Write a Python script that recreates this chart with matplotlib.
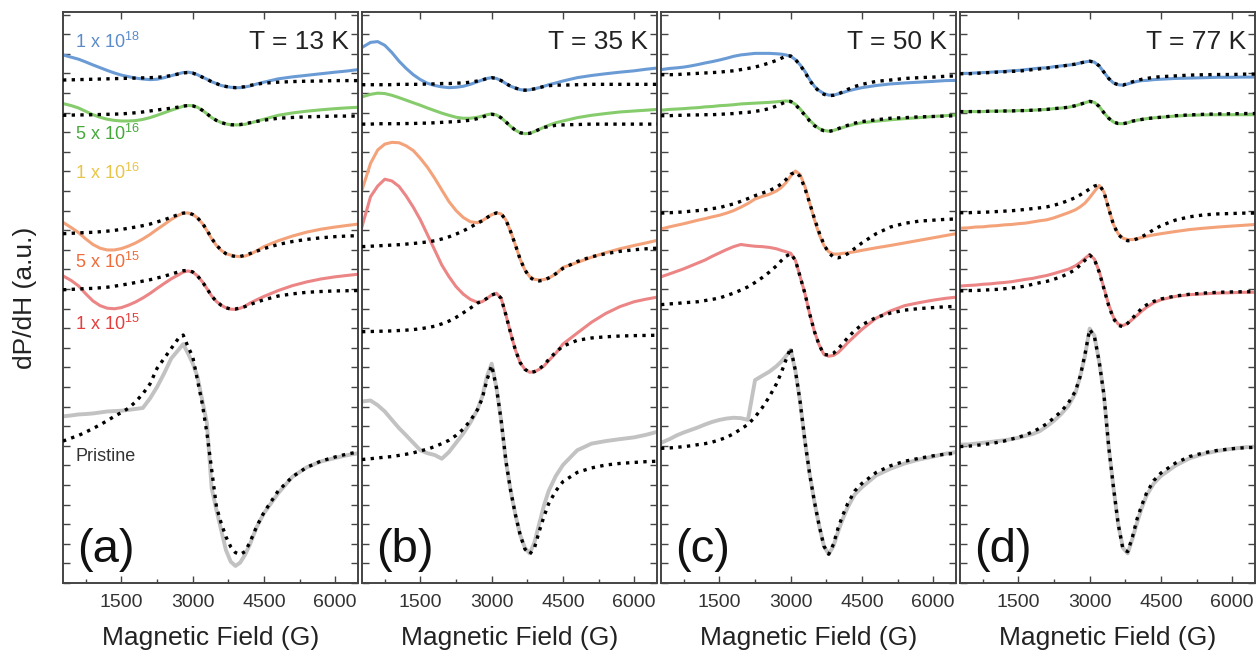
import matplotlib
matplotlib.use('Agg')

import matplotlib.pyplot as plt
from matplotlib.ticker import FixedLocator, MultipleLocator

plt.rcParams['font.family'] = ['Liberation Sans', 'DejaVu Sans']
plt.rcParams['mathtext.default'] = 'regular'

# magnetic field grid (G) shared by every trace
FIELD = [270, 450, 600, 750, 900, 1050, 1200, 1350, 1500, 1650, 1800, 1950, 2100, 2250,
         2400, 2550, 2700, 2800, 2900, 3000, 3100, 3200, 3300, 3400, 3500, 3600, 3700,
         3800, 3900, 4000, 4100, 4200, 4350, 4500, 4800, 5100, 5400, 5700, 6000, 6250, 6480]

TEMPS = ['T = 13 K', 'T = 35 K', 'T = 50 K', 'T = 77 K']
PANEL_TAGS = ['(a)', '(b)', '(c)', '(d)']
DOSES = ['1 x 10$^{18}$', '5 x 10$^{16}$', '1 x 10$^{16}$', '5 x 10$^{15}$', '1 x 10$^{15}$', 'Pristine']

# ---- (a) 13 K ----
A_BLUE = [26.94, 26.82, 26.72, 26.58, 26.43, 26.29, 26.15, 26.02, 25.91, 25.83, 25.76, 25.71, 25.68, 25.70,
          25.78, 25.88, 25.98, 26.04, 26.06, 26.02, 25.93, 25.81, 25.70, 25.57, 25.48, 25.38, 25.33,
          25.29, 25.27, 25.27, 25.31, 25.35, 25.46, 25.55, 25.72, 25.82, 25.90, 25.98, 26.06, 26.12, 26.19]
A_BLUE_FIT = [25.66, 25.67, 25.68, 25.69, 25.70, 25.71, 25.72, 25.73, 25.74, 25.75, 25.76, 25.77, 25.78, 25.80,
              25.83, 25.89, 25.97, 26.02, 26.04, 26.01, 25.93, 25.81, 25.70, 25.57, 25.48, 25.38, 25.33,
              25.29, 25.27, 25.29, 25.32, 25.38, 25.45, 25.50, 25.55, 25.58, 25.60, 25.61, 25.63, 25.63, 25.63]
A_GREEN = [24.46, 24.35, 24.23, 24.06, 23.89, 23.76, 23.66, 23.60, 23.57, 23.57, 23.59, 23.65, 23.74, 23.86,
           23.99, 24.12, 24.24, 24.32, 24.36, 24.35, 24.27, 24.12, 23.94, 23.74, 23.60, 23.49, 23.42,
           23.38, 23.37, 23.37, 23.40, 23.46, 23.56, 23.66, 23.86, 23.98, 24.07, 24.14, 24.20, 24.24, 24.27]
A_GREEN_FIT = [23.86, 23.87, 23.88, 23.88, 23.89, 23.90, 23.91, 23.92, 23.93, 23.96, 23.99, 24.03, 24.08, 24.13,
               24.18, 24.22, 24.28, 24.33, 24.36, 24.34, 24.27, 24.12, 23.94, 23.74, 23.60, 23.49, 23.42,
               23.38, 23.37, 23.39, 23.43, 23.48, 23.55, 23.61, 23.71, 23.75, 23.78, 23.80, 23.82, 23.82, 23.82]
A_ORANGE = [18.40, 18.12, 17.87, 17.55, 17.27, 17.08, 16.99, 16.99, 17.06, 17.19, 17.35, 17.55, 17.78, 18.04,
            18.29, 18.55, 18.76, 18.87, 18.88, 18.80, 18.63, 18.35, 17.98, 17.56, 17.22, 16.97, 16.80,
            16.73, 16.67, 16.65, 16.68, 16.76, 16.95, 17.16, 17.46, 17.70, 17.90, 18.05, 18.16, 18.24, 18.31]
A_ORANGE_FIT = [17.82, 17.84, 17.86, 17.88, 17.89, 17.92, 17.95, 17.99, 18.04, 18.10, 18.16, 18.23, 18.31, 18.42,
                18.53, 18.66, 18.80, 18.87, 18.89, 18.80, 18.63, 18.37, 18.00, 17.58, 17.24, 16.98, 16.80,
                16.70, 16.66, 16.66, 16.72, 16.80, 16.93, 17.06, 17.27, 17.42, 17.53, 17.61, 17.67, 17.70, 17.72]
A_RED = [15.67, 15.42, 15.15, 14.75, 14.39, 14.15, 14.02, 13.99, 14.05, 14.18, 14.34, 14.54, 14.77, 15.03,
         15.28, 15.52, 15.72, 15.86, 15.92, 15.86, 15.67, 15.38, 15.02, 14.64, 14.36, 14.17, 14.04,
         13.97, 13.96, 14.02, 14.12, 14.27, 14.45, 14.62, 14.92, 15.17, 15.36, 15.51, 15.62, 15.69, 15.75]
A_RED_FIT = [14.96, 14.98, 15.00, 15.02, 15.03, 15.06, 15.09, 15.14, 15.20, 15.26, 15.33, 15.40, 15.47, 15.56,
             15.65, 15.76, 15.87, 15.93, 15.95, 15.87, 15.67, 15.38, 15.02, 14.64, 14.36, 14.17, 14.04,
             13.98, 13.98, 14.03, 14.10, 14.20, 14.33, 14.45, 14.64, 14.75, 14.83, 14.87, 14.90, 14.91, 14.92]
A_GREY = [8.50, 8.55, 8.60, 8.62, 8.65, 8.70, 8.75, 8.77, 8.79, 8.83, 8.88, 8.93, 9.41, 10.00,
          10.70, 11.46, 11.89, 12.19, 11.72, 11.21, 10.53, 9.34, 8.15, 4.83, 3.72, 2.70, 1.68,
          1.09, 0.87, 1.04, 1.43, 1.94, 2.87, 3.56, 4.58, 5.42, 5.90, 6.20, 6.38, 6.52, 6.62]
A_GREY_FIT = [7.24, 7.40, 7.53, 7.70, 7.88, 8.07, 8.28, 8.50, 8.70, 8.92, 9.25, 9.65, 10.15, 10.95,
              11.46, 11.97, 12.48, 12.65, 12.06, 11.55, 10.36, 9.17, 7.64, 5.77, 3.89, 3.05, 2.36,
              1.85, 1.55, 1.46, 1.60, 2.05, 2.90, 3.60, 4.70, 5.42, 5.90, 6.22, 6.43, 6.58, 6.68]

# ---- (b) 35 K ----
B_BLUE = [27.32, 27.58, 27.62, 27.43, 27.06, 26.62, 26.25, 25.93, 25.68, 25.49, 25.38, 25.31, 25.27, 25.29,
          25.34, 25.44, 25.57, 25.66, 25.74, 25.78, 25.74, 25.63, 25.48, 25.34, 25.25, 25.17, 25.14,
          25.16, 25.21, 25.27, 25.34, 25.42, 25.51, 25.61, 25.78, 25.89, 25.98, 26.06, 26.13, 26.21, 26.27]
B_BLUE_FIT = [25.42, 25.42, 25.42, 25.42, 25.42, 25.44, 25.44, 25.44, 25.44, 25.46, 25.46, 25.48, 25.48, 25.50,
              25.51, 25.55, 25.61, 25.66, 25.74, 25.78, 25.74, 25.63, 25.48, 25.34, 25.25, 25.17, 25.14,
              25.16, 25.21, 25.27, 25.33, 25.37, 25.40, 25.40, 25.42, 25.44, 25.44, 25.44, 25.44, 25.44, 25.44]
B_GREEN = [24.80, 24.93, 24.99, 24.97, 24.88, 24.76, 24.63, 24.50, 24.37, 24.23, 24.10, 23.97, 23.86, 23.76,
           23.71, 23.71, 23.76, 23.82, 23.89, 23.93, 23.88, 23.73, 23.52, 23.29, 23.10, 22.97, 22.92,
           22.94, 23.03, 23.14, 23.25, 23.35, 23.48, 23.57, 23.74, 23.86, 23.95, 24.03, 24.08, 24.12, 24.16]
B_GREEN_FIT = [23.41, 23.41, 23.43, 23.43, 23.43, 23.43, 23.44, 23.44, 23.46, 23.46, 23.48, 23.50, 23.52, 23.54,
               23.57, 23.61, 23.69, 23.76, 23.86, 23.91, 23.88, 23.73, 23.52, 23.29, 23.10, 22.97, 22.92,
               22.94, 23.03, 23.14, 23.24, 23.29, 23.35, 23.37, 23.39, 23.41, 23.41, 23.41, 23.41, 23.41, 23.41]
B_ORANGE = [20.05, 21.41, 22.09, 22.39, 22.48, 22.46, 22.30, 22.06, 21.66, 21.20, 20.65, 20.05, 19.46, 19.00,
            18.65, 18.43, 18.38, 18.48, 18.64, 18.79, 18.88, 18.83, 18.52, 17.92, 17.24, 16.51, 15.97,
            15.63, 15.49, 15.46, 15.48, 15.56, 15.76, 16.10, 16.35, 16.62, 16.85, 17.05, 17.22, 17.35, 17.48]
B_ORANGE_FIT = [17.16, 17.18, 17.20, 17.22, 17.24, 17.26, 17.29, 17.32, 17.36, 17.40, 17.46, 17.55, 17.66, 17.80,
                17.96, 18.15, 18.35, 18.48, 18.64, 18.79, 18.88, 18.83, 18.52, 17.92, 17.24, 16.51, 15.97,
                15.60, 15.44, 15.41, 15.45, 15.56, 15.78, 16.05, 16.40, 16.64, 16.80, 16.92, 17.00, 17.05, 17.08]
B_RED = [18.18, 19.71, 20.25, 20.60, 20.51, 20.23, 19.74, 19.17, 18.52, 17.76, 16.99, 16.22, 15.63, 15.12,
         14.74, 14.47, 14.32, 14.35, 14.52, 14.69, 14.78, 14.52, 13.67, 12.74, 11.88, 11.24, 10.90,
         10.75, 10.78, 10.90, 11.07, 11.34, 11.72, 12.19, 12.75, 13.30, 13.75, 14.10, 14.35, 14.48, 14.58]
B_RED_FIT = [12.82, 12.83, 12.84, 12.85, 12.86, 12.88, 12.90, 12.93, 12.97, 13.03, 13.10, 13.22, 13.36, 13.55,
             13.78, 14.02, 14.28, 14.38, 14.52, 14.69, 14.78, 14.52, 13.67, 12.74, 11.88, 11.24, 10.90,
             10.75, 10.78, 10.92, 11.12, 11.40, 11.78, 12.08, 12.38, 12.50, 12.56, 12.60, 12.62, 12.63, 12.64]
B_GREY = [9.26, 9.31, 9.07, 8.75, 8.32, 7.90, 7.53, 7.15, 6.77, 6.62, 6.53, 6.34, 6.68, 7.15,
          7.62, 8.18, 8.84, 9.50, 10.54, 11.19, 9.97, 8.28, 6.21, 4.70, 3.48, 2.45, 1.79,
          1.51, 2.07, 3.01, 3.95, 4.70, 5.46, 6.02, 6.77, 7.11, 7.24, 7.34, 7.43, 7.56, 7.71]
B_GREY_FIT = [6.30, 6.34, 6.38, 6.42, 6.45, 6.51, 6.57, 6.64, 6.74, 6.83, 6.96, 7.11, 7.28, 7.53,
              7.85, 8.28, 8.84, 9.41, 10.35, 11.10, 9.97, 8.28, 6.21, 4.70, 3.48, 2.45, 1.73,
              1.47, 1.79, 2.63, 3.39, 4.05, 4.70, 5.17, 5.64, 5.87, 6.02, 6.10, 6.15, 6.19, 6.21]

# ---- (c) 50 K ----
C_BLUE = [26.19, 26.25, 26.28, 26.32, 26.38, 26.45, 26.53, 26.60, 26.68, 26.77, 26.87, 26.94, 26.98, 27.02,
          27.02, 27.02, 27.00, 26.98, 26.94, 26.87, 26.70, 26.43, 26.10, 25.68, 25.34, 25.12, 24.97,
          24.89, 24.89, 24.95, 25.02, 25.10, 25.19, 25.27, 25.38, 25.46, 25.51, 25.55, 25.59, 25.63, 25.64]
C_BLUE_FIT = [25.93, 25.93, 25.94, 25.96, 25.98, 26.00, 26.02, 26.04, 26.06, 26.10, 26.13, 26.19, 26.25, 26.32,
              26.42, 26.53, 26.66, 26.77, 26.87, 26.89, 26.70, 26.42, 26.06, 25.64, 25.31, 25.08, 24.93,
              24.86, 24.88, 24.95, 25.06, 25.18, 25.33, 25.44, 25.59, 25.66, 25.74, 25.78, 25.81, 25.85, 25.87]
C_GREEN = [24.12, 24.16, 24.18, 24.20, 24.23, 24.25, 24.29, 24.31, 24.35, 24.37, 24.40, 24.44, 24.46, 24.48,
           24.50, 24.52, 24.55, 24.57, 24.59, 24.57, 24.42, 24.18, 23.89, 23.61, 23.37, 23.18, 23.09,
           23.05, 23.09, 23.16, 23.24, 23.31, 23.41, 23.48, 23.56, 23.63, 23.69, 23.74, 23.80, 23.84, 23.88]
C_GREEN_FIT = [23.84, 23.84, 23.86, 23.86, 23.88, 23.88, 23.89, 23.89, 23.91, 23.93, 23.95, 23.99, 24.01, 24.06,
               24.12, 24.20, 24.33, 24.44, 24.55, 24.57, 24.40, 24.14, 23.86, 23.57, 23.33, 23.16, 23.07,
               23.03, 23.09, 23.18, 23.27, 23.35, 23.46, 23.54, 23.63, 23.71, 23.74, 23.78, 23.80, 23.82, 23.84]
C_ORANGE = [18.06, 18.17, 18.25, 18.33, 18.42, 18.51, 18.59, 18.68, 18.76, 18.87, 19.00, 19.17, 19.36, 19.59,
            19.72, 19.83, 20.00, 20.17, 20.42, 20.76, 21.02, 20.83, 20.23, 19.38, 18.53, 17.78, 17.22,
            16.90, 16.78, 16.78, 16.82, 16.84, 16.90, 16.97, 17.10, 17.22, 17.35, 17.48, 17.61, 17.72, 17.82]
C_ORANGE_FIT = [18.87, 18.89, 18.91, 18.93, 18.97, 19.00, 19.04, 19.10, 19.15, 19.25, 19.34, 19.47, 19.61, 19.76,
                19.89, 20.02, 20.19, 20.36, 20.58, 20.85, 20.96, 20.74, 20.13, 19.38, 18.59, 17.88, 17.27,
                16.84, 16.63, 16.59, 16.67, 16.80, 17.07, 17.35, 17.82, 18.16, 18.35, 18.46, 18.51, 18.55, 18.57]
C_RED = [15.62, 15.77, 15.90, 16.03, 16.18, 16.33, 16.48, 16.67, 16.84, 17.01, 17.16, 17.27, 17.22, 17.18,
         17.16, 17.12, 17.05, 16.97, 16.90, 16.82, 16.46, 15.62, 14.77, 13.73, 12.83, 12.14, 11.66,
         11.57, 11.61, 11.76, 12.00, 12.26, 12.60, 12.94, 13.51, 13.88, 14.15, 14.30, 14.43, 14.52, 14.58]
C_RED_FIT = [14.20, 14.24, 14.26, 14.30, 14.32, 14.35, 14.41, 14.47, 14.54, 14.66, 14.79, 14.94, 15.11, 15.33,
             15.58, 15.86, 16.18, 16.44, 16.67, 16.80, 16.46, 15.62, 14.77, 13.73, 12.83, 12.14, 11.66,
             11.63, 11.72, 11.95, 12.23, 12.51, 12.89, 13.17, 13.55, 13.77, 13.92, 14.00, 14.05, 14.09, 14.11]
C_GREY = [7.15, 7.34, 7.53, 7.68, 7.81, 7.94, 8.09, 8.22, 8.32, 8.39, 8.43, 8.41, 8.32, 10.35,
          10.57, 10.78, 11.06, 11.29, 11.57, 11.89, 10.82, 9.22, 7.24, 5.55, 4.14, 2.92, 1.88,
          1.47, 1.88, 2.63, 3.29, 3.86, 4.52, 4.89, 5.49, 5.83, 6.10, 6.30, 6.45, 6.59, 6.68]
C_GREY_FIT = [6.87, 6.89, 6.92, 6.96, 7.00, 7.06, 7.11, 7.19, 7.30, 7.43, 7.62, 7.85, 8.09, 8.47,
              8.94, 9.50, 10.16, 10.72, 11.38, 12.00, 10.82, 9.22, 7.24, 5.55, 4.14, 2.92, 1.88,
              1.47, 1.98, 2.82, 3.48, 4.05, 4.70, 5.08, 5.64, 5.98, 6.21, 6.36, 6.49, 6.57, 6.62]

# ---- (d) 77 K ----
D_BLUE = [26.00, 26.00, 26.02, 26.04, 26.06, 26.08, 26.10, 26.13, 26.15, 26.19, 26.23, 26.27, 26.28, 26.34,
          26.38, 26.42, 26.47, 26.53, 26.58, 26.62, 26.57, 26.38, 26.06, 25.74, 25.51, 25.42, 25.40,
          25.46, 25.53, 25.59, 25.63, 25.64, 25.68, 25.70, 25.74, 25.76, 25.78, 25.80, 25.80, 25.81, 25.81]
D_BLUE_FIT = [25.98, 25.98, 26.00, 26.02, 26.04, 26.06, 26.08, 26.10, 26.11, 26.15, 26.19, 26.23, 26.27, 26.32,
              26.36, 26.42, 26.47, 26.53, 26.58, 26.62, 26.57, 26.38, 26.06, 25.74, 25.51, 25.42, 25.40,
              25.48, 25.57, 25.64, 25.70, 25.74, 25.80, 25.83, 25.87, 25.91, 25.93, 25.94, 25.94, 25.96, 25.96]
D_GREEN = [24.05, 24.05, 24.05, 24.05, 24.07, 24.07, 24.08, 24.08, 24.10, 24.10, 24.12, 24.14, 24.16, 24.20,
           24.23, 24.27, 24.35, 24.42, 24.50, 24.57, 24.52, 24.31, 23.99, 23.71, 23.52, 23.44, 23.43,
           23.48, 23.56, 23.61, 23.65, 23.69, 23.73, 23.76, 23.82, 23.86, 23.88, 23.89, 23.89, 23.89, 23.89]
D_GREEN_FIT = [24.05, 24.05, 24.05, 24.05, 24.07, 24.07, 24.08, 24.08, 24.10, 24.10, 24.12, 24.14, 24.16, 24.20,
               24.23, 24.27, 24.35, 24.42, 24.50, 24.57, 24.52, 24.31, 23.99, 23.71, 23.52, 23.44, 23.43,
               23.48, 23.56, 23.61, 23.65, 23.69, 23.73, 23.76, 23.84, 23.88, 23.91, 23.93, 23.94, 23.95, 23.95]
D_ORANGE = [18.10, 18.12, 18.16, 18.17, 18.21, 18.23, 18.27, 18.29, 18.33, 18.36, 18.42, 18.48, 18.53, 18.63,
            18.76, 18.89, 19.04, 19.19, 19.38, 19.66, 19.98, 20.28, 19.95, 19.10, 18.29, 17.82, 17.59,
            17.52, 17.52, 17.57, 17.63, 17.69, 17.76, 17.82, 17.93, 18.03, 18.10, 18.16, 18.21, 18.25, 18.29]
D_ORANGE_FIT = [18.89, 18.89, 18.91, 18.91, 18.93, 18.95, 18.97, 18.99, 19.02, 19.06, 19.10, 19.14, 19.19, 19.27,
                19.38, 19.51, 19.66, 19.80, 19.95, 20.10, 20.25, 20.32, 19.95, 19.10, 18.29, 17.78, 17.56,
                17.46, 17.48, 17.56, 17.67, 17.80, 18.03, 18.23, 18.51, 18.68, 18.78, 18.83, 18.85, 18.87, 18.87]
D_RED = [15.15, 15.18, 15.20, 15.24, 15.26, 15.30, 15.33, 15.37, 15.43, 15.49, 15.54, 15.62, 15.69, 15.79,
         15.90, 16.01, 16.18, 16.35, 16.56, 16.75, 16.52, 15.90, 15.05, 14.20, 13.55, 13.21, 13.13,
         13.25, 13.45, 13.66, 13.88, 14.07, 14.30, 14.45, 14.62, 14.71, 14.75, 14.79, 14.81, 14.83, 14.83]
D_RED_FIT = [14.90, 14.92, 14.92, 14.94, 14.96, 14.98, 15.01, 15.05, 15.09, 15.15, 15.24, 15.32, 15.39, 15.50,
             15.62, 15.79, 15.99, 16.22, 16.46, 16.73, 16.50, 15.86, 15.01, 14.15, 13.49, 13.15, 13.07,
             13.25, 13.51, 13.77, 14.02, 14.19, 14.37, 14.49, 14.64, 14.73, 14.79, 14.83, 14.85, 14.86, 14.86]
D_GREY = [7.06, 7.07, 7.11, 7.15, 7.19, 7.24, 7.28, 7.34, 7.41, 7.51, 7.60, 7.75, 8.00, 8.28,
          8.62, 9.03, 9.69, 10.54, 11.57, 12.98, 12.61, 11.29, 9.60, 6.96, 4.89, 3.01, 1.79,
          1.51, 2.26, 3.10, 3.86, 4.48, 5.08, 5.46, 5.98, 6.36, 6.59, 6.74, 6.85, 6.92, 6.96]
D_GREY_FIT = [6.96, 6.98, 7.02, 7.06, 7.11, 7.17, 7.24, 7.34, 7.43, 7.56, 7.71, 7.90, 8.13, 8.43,
              8.75, 9.18, 9.79, 10.54, 11.66, 12.94, 12.57, 11.29, 9.60, 6.96, 4.89, 3.01, 1.73,
              1.60, 2.35, 3.29, 3.99, 4.61, 5.23, 5.61, 6.11, 6.45, 6.64, 6.77, 6.85, 6.90, 6.92]

# colours
C_LINE = {'blue': '#6b9bd4', 'green': '#86cc6c', 'orange': '#f4a27a', 'red': '#ec8585', 'grey': '#c2c2c2'}
LABEL_COLORS = ['#5b8bc9', '#45a83a', '#e8c548', '#f06b38', '#e63d3d', '#333333']
LABEL_Y = [27.6, 22.9, 20.9, 16.4, 13.2, 6.45]

panels = [
    [(A_BLUE, A_BLUE_FIT, 'blue'), (A_GREEN, A_GREEN_FIT, 'green'), (A_ORANGE, A_ORANGE_FIT, 'orange'),
     (A_RED, A_RED_FIT, 'red'), (A_GREY, A_GREY_FIT, 'grey')],
    [(B_BLUE, B_BLUE_FIT, 'blue'), (B_GREEN, B_GREEN_FIT, 'green'), (B_ORANGE, B_ORANGE_FIT, 'orange'),
     (B_RED, B_RED_FIT, 'red'), (B_GREY, B_GREY_FIT, 'grey')],
    [(C_BLUE, C_BLUE_FIT, 'blue'), (C_GREEN, C_GREEN_FIT, 'green'), (C_ORANGE, C_ORANGE_FIT, 'orange'),
     (C_RED, C_RED_FIT, 'red'), (C_GREY, C_GREY_FIT, 'grey')],
    [(D_BLUE, D_BLUE_FIT, 'blue'), (D_GREEN, D_GREEN_FIT, 'green'), (D_ORANGE, D_ORANGE_FIT, 'orange'),
     (D_RED, D_RED_FIT, 'red'), (D_GREY, D_GREY_FIT, 'grey')],
]

W, H = 1258, 658
fig = plt.figure(figsize=(W / 100, H / 100), dpi=100)
lefts = [63, 362, 661, 960]

for i, traces in enumerate(panels):
    ax = fig.add_axes([lefts[i] / W, 75 / H, 295 / W, 571 / H])

    # measured spectra first, fits drawn on top
    for data, fit, key in traces:
        lw = 2.8 if key == 'grey' else 2.2
        ax.plot(FIELD, data, color=C_LINE[key], lw=lw, solid_joinstyle='round', zorder=2)
    for data, fit, key in traces:
        ax.plot(FIELD, fit, color='black', lw=2.4, linestyle=(0, (1, 1.6)), zorder=3)

    ax.set_xlim(270, 6480)
    ax.set_ylim(0, 29.13)

    ax.xaxis.set_major_locator(FixedLocator([1500, 3000, 4500, 6000]))
    ax.xaxis.set_minor_locator(FixedLocator([750, 2250, 3750, 5250]))
    ax.yaxis.set_major_locator(MultipleLocator(1))
    ax.tick_params(axis='x', which='major', direction='in', length=5, width=1, top=True,
                   labelsize=14, pad=8, colors='#444444', labelcolor='#333333')
    ax.tick_params(axis='x', which='minor', direction='in', length=3.2, width=1, top=False,
                   colors='#444444')
    ax.tick_params(axis='y', which='major', direction='in', length=5, width=1, right=True,
                   left=True, labelleft=False, colors='#444444')
    for sp in ax.spines.values():
        sp.set_linewidth(1.4)
        sp.set_color('#444444')

    ax.set_xlabel('Magnetic Field (G)', fontsize=19, color='#222222', labelpad=11)

    ax.text(0.97, 0.947, TEMPS[i], transform=ax.transAxes, ha='right', va='center',
            fontsize=19, color='#222222')
    ax.text(0.048, 0.02, PANEL_TAGS[i], transform=ax.transAxes, ha='left', va='bottom',
            fontsize=34, color='#111111')

    if i == 0:
        for lbl, col, yy in zip(DOSES, LABEL_COLORS, LABEL_Y):
            ax.text(530, yy, lbl, color=col, fontsize=13, ha='left', va='center')

fig.text(25 / W, 1 - 298 / H, 'dP/dH (a.u.)', rotation=90, ha='center', va='center',
         fontsize=19, color='#222222')

fig.savefig('out.png', dpi=100)
